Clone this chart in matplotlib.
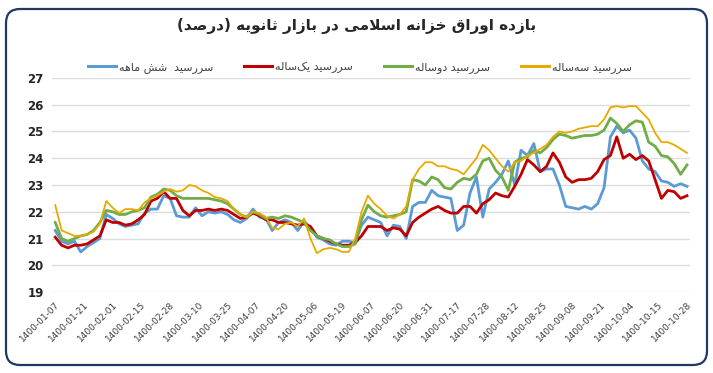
import numpy as np
import matplotlib
matplotlib.use("Agg")
import matplotlib.pyplot as plt
from matplotlib.patches import FancyBboxPatch
from matplotlib.lines import Line2D

title = "بازده اوراق خزانه اسلامی در بازار ثانویه (درصد)"
names = ["سررسید  شش ماهه", "سررسید یک‌ساله", "سررسید دوساله", "سررسید سه‌ساله"]
colors = ["#5B9BD5", "#C00000", "#70AD47", "#E8AA00"]
widths = [2.0, 2.0, 2.0, 1.3]

tick_labels = ["1400-01-07", "1400-01-21", "1400-02-01", "1400-02-15", "1400-02-28",
               "1400-03-10", "1400-03-25", "1400-04-07", "1400-04-20", "1400-05-06",
               "1400-05-19", "1400-06-07", "1400-06-20", "1400-06-31", "1400-07-17",
               "1400-07-28", "1400-08-12", "1400-08-25", "1400-09-08", "1400-09-21",
               "1400-10-04", "1400-10-15", "1400-10-28"]

# one value every 2 trading days, a tick label every 9 trading days
six_month = [21.3, 20.9, 20.8, 20.9, 20.5, 20.7, 20.85, 21.0, 21.9, 21.75,
             21.55, 21.45, 21.5, 21.55, 21.95, 22.1, 22.1, 22.6, 22.5, 21.85,
             21.8, 21.8, 22.15, 21.85, 22.0, 21.95, 22.0, 21.9, 21.7, 21.6,
             21.75, 22.1, 21.8, 21.75, 21.3, 21.6, 21.7, 21.6, 21.3, 21.65,
             21.4, 21.05, 20.95, 20.8, 20.75, 20.9, 20.9, 20.85, 21.5, 21.8,
             21.7, 21.6, 21.1, 21.5, 21.45, 21.0, 22.2, 22.35, 22.35, 22.8,
             22.6, 22.55, 22.5, 21.3, 21.5, 22.7, 23.3, 21.8, 22.85, 23.1,
             23.4, 23.9, 23.0, 24.3, 24.1, 24.55, 23.5, 23.6, 23.6, 23.0,
             22.2, 22.15, 22.1, 22.2, 22.1, 22.3, 22.9, 24.8, 25.2, 24.95,
             25.05, 24.75, 23.9, 23.6, 23.5, 23.15, 23.1, 22.95, 23.05, 22.95]
one_year = [21.05, 20.75, 20.65, 20.75, 20.75, 20.8, 20.95, 21.1, 21.7, 21.6,
            21.6, 21.5, 21.55, 21.7, 21.9, 22.4, 22.5, 22.75, 22.5, 22.5,
            22.05, 21.85, 22.05, 22.05, 22.1, 22.05, 22.1, 22.05, 21.9, 21.75,
            21.8, 21.95, 21.85, 21.7, 21.7, 21.6, 21.6, 21.55, 21.5, 21.55,
            21.45, 21.1, 21.0, 20.9, 20.8, 20.75, 20.75, 20.85, 21.1, 21.45,
            21.45, 21.45, 21.3, 21.4, 21.35, 21.1, 21.6, 21.8, 21.95, 22.1,
            22.2, 22.05, 21.95, 21.95, 22.2, 22.2, 21.95, 22.3, 22.45, 22.7,
            22.6, 22.55, 22.95, 23.4, 23.95, 23.75, 23.5, 23.7, 24.2, 23.85,
            23.3, 23.1, 23.2, 23.2, 23.25, 23.5, 23.95, 24.1, 24.8, 24.0,
            24.15, 23.95, 24.1, 23.9, 23.2, 22.5, 22.8, 22.75, 22.5, 22.6]
two_year = [21.6, 21.0, 20.9, 21.0, 21.1, 21.15, 21.3, 21.6, 22.05, 22.0,
            21.9, 21.9, 22.0, 22.05, 22.15, 22.55, 22.65, 22.85, 22.8, 22.6,
            22.5, 22.5, 22.5, 22.5, 22.5, 22.45, 22.4, 22.3, 22.1, 21.9,
            21.8, 22.0, 21.9, 21.75, 21.8, 21.75, 21.85, 21.8, 21.7, 21.6,
            21.3, 21.1, 21.0, 20.95, 20.8, 20.7, 20.7, 20.8, 21.7, 22.25,
            22.0, 21.85, 21.8, 21.85, 21.9, 22.0, 23.2, 23.15, 23.0, 23.3,
            23.2, 22.9, 22.85, 23.1, 23.25, 23.2, 23.4, 23.9, 24.0, 23.55,
            23.3, 22.8, 23.85, 24.0, 24.05, 24.3, 24.2, 24.4, 24.7, 24.9,
            24.85, 24.75, 24.8, 24.85, 24.85, 24.9, 25.05, 25.5, 25.3, 25.0,
            25.25, 25.4, 25.35, 24.6, 24.45, 24.1, 24.05, 23.8, 23.4, 23.75]
three_year = [22.25, 21.3, 21.2, 21.1, 21.1, 21.15, 21.25, 21.55, 22.4, 22.15,
              21.95, 22.1, 22.1, 22.05, 22.35, 22.5, 22.6, 22.75, 22.85, 22.75,
              22.8, 23.0, 22.95, 22.8, 22.7, 22.55, 22.5, 22.4, 22.1, 21.9,
              21.8, 22.0, 21.95, 21.8, 21.4, 21.35, 21.55, 21.6, 21.45, 21.75,
              21.0, 20.45, 20.6, 20.65, 20.6, 20.5, 20.5, 21.0, 22.0, 22.6,
              22.3, 22.1, 21.85, 21.75, 21.9, 22.2, 23.2, 23.6, 23.85, 23.85,
              23.7, 23.7, 23.6, 23.55, 23.4, 23.7, 24.0, 24.5, 24.3, 24.0,
              23.7, 23.5, 23.85, 23.9, 24.1, 24.2, 24.35, 24.5, 24.8, 25.0,
              24.95, 25.0, 25.1, 25.15, 25.2, 25.2, 25.45, 25.9, 25.95, 25.9,
              25.95, 25.95, 25.7, 25.45, 24.95, 24.6, 24.6, 24.5, 24.35, 24.2]

# ---- minimal Persian shaping (matplotlib does no Arabic shaping / bidi) ----
FORMS = {  # isolated, final, initial, medial
    'ا': (0xFE8D, 0xFE8E, None, None), 'ب': (0xFE8F, 0xFE90, 0xFE91, 0xFE92),
    'ت': (0xFE95, 0xFE96, 0xFE97, 0xFE98), 'ث': (0xFE99, 0xFE9A, 0xFE9B, 0xFE9C),
    'خ': (0xFEA5, 0xFEA6, 0xFEA7, 0xFEA8), 'د': (0xFEA9, 0xFEAA, None, None),
    'ر': (0xFEAD, 0xFEAE, None, None), 'ز': (0xFEAF, 0xFEB0, None, None),
    'س': (0xFEB1, 0xFEB2, 0xFEB3, 0xFEB4), 'ش': (0xFEB5, 0xFEB6, 0xFEB7, 0xFEB8),
    'ص': (0xFEB9, 0xFEBA, 0xFEBB, 0xFEBC), 'ق': (0xFED5, 0xFED6, 0xFED7, 0xFED8),
    'ل': (0xFEDD, 0xFEDE, 0xFEDF, 0xFEE0), 'م': (0xFEE1, 0xFEE2, 0xFEE3, 0xFEE4),
    'ن': (0xFEE5, 0xFEE6, 0xFEE7, 0xFEE8), 'ه': (0xFEE9, 0xFEEA, 0xFEEB, 0xFEEC),
    'و': (0xFEED, 0xFEEE, None, None), 'ی': (0xFBFC, 0xFBFD, 0xFBFE, 0xFBFF),
    'ک': (0xFB8E, 0xFB8F, 0xFB90, 0xFB91),
}


def shape(text):
    chars = list(text)
    out = []
    i = 0
    while i < len(chars):
        c = chars[i]
        if c not in FORMS:
            if c != '\u200c':
                out.append({'(': ')', ')': '('}.get(c, c))
            i += 1
            continue
        prev = chars[i - 1] if i > 0 else ''
        joins_prev = prev in FORMS and FORMS[prev][2] is not None
        # lam-alef ligature
        if c == 'ل' and i + 1 < len(chars) and chars[i + 1] == 'ا':
            out.append(chr(0xFEFC if joins_prev else 0xFEFB))
            i += 2
            continue
        nxt = chars[i + 1] if i + 1 < len(chars) else ''
        joins_next = nxt in FORMS and FORMS[c][2] is not None
        iso, fin, ini, med = FORMS[c]
        if joins_prev and joins_next:
            f = med
        elif joins_prev:
            f = fin
        elif joins_next:
            f = ini
        else:
            f = iso
        out.append(chr(f))
        i += 1
    return ''.join(reversed(out))


def main():
    plt.rcParams['font.family'] = ['DejaVu Sans']
    fig = plt.figure(figsize=(7.13, 3.73), dpi=100)
    ax = fig.add_axes([0.073, 0.217, 0.895, 0.574])

    series = [six_month, one_year, two_year, three_year]
    x = np.arange(len(six_month)) * 2
    for vals, col, lw in zip(series, colors, widths):
        ax.plot(x, vals, color=col, lw=lw, solid_joinstyle='round')

    ax.set_ylim(19, 27)
    ax.set_yticks(range(19, 28))
    ax.set_xlim(-1, x[-1] + 1)
    ax.set_xticks(np.arange(len(tick_labels)) * 9)
    ax.set_xticklabels(tick_labels, rotation=45, ha='right', va='top',
                       rotation_mode='anchor', fontsize=6.5, color='#404040',
                       family=['Liberation Sans Narrow', 'DejaVu Sans'])
    for lab in ax.get_yticklabels():
        lab.set_fontweight('bold')
        lab.set_fontsize(8.5)
        lab.set_color('#262626')
    ax.tick_params(length=0, pad=6)
    ax.grid(axis='y', color='#dcdcdc', lw=1)
    ax.set_axisbelow(True)
    for s in ax.spines.values():
        s.set_visible(False)

    fig.text(0.5, 0.93, shape(title), ha='center', va='center',
             fontsize=11, fontweight='bold', color='#262626')

    handles = [Line2D([], [], color=c, lw=2.2) for c in colors]
    fig.legend(handles, [shape(n) for n in names], loc='center',
               bbox_to_anchor=(0.505, 0.82), ncol=4, frameon=False,
               fontsize=8, handlelength=2.5, columnspacing=2.8,
               handletextpad=0.3, labelcolor='#404040')

    fig.patches.append(FancyBboxPatch((6, 8), 701, 356,
                                      boxstyle="round,pad=0,rounding_size=14",
                                      transform=None, fill=False,
                                      edgecolor='#203864', lw=1.6))
    fig.savefig('out.png', dpi=100)


if __name__ == '__main__':
    main()
